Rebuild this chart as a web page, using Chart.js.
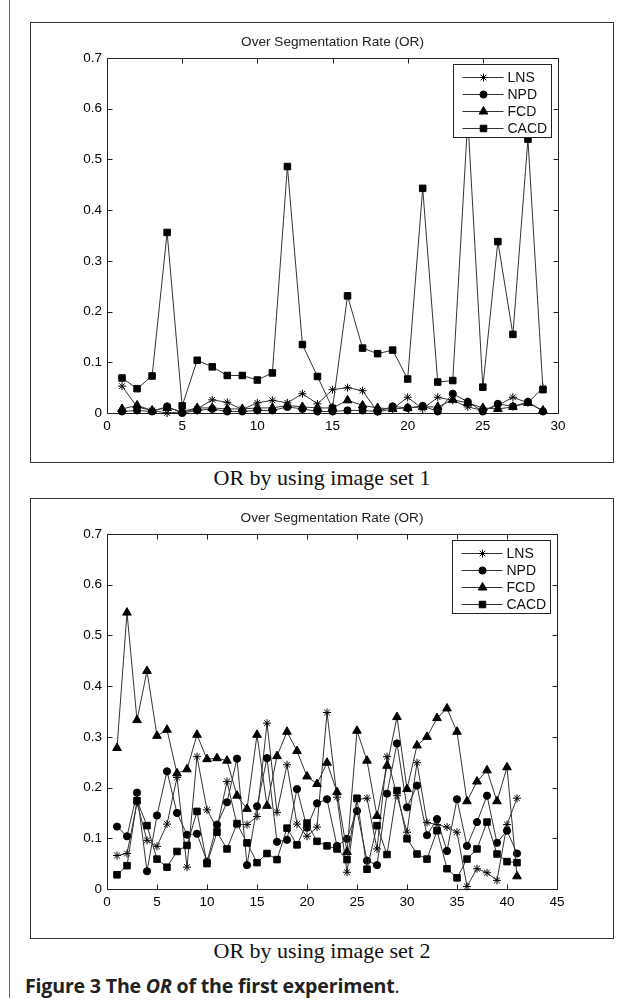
<!DOCTYPE html>
<html>
<head>
<meta charset="utf-8">
<script src="https://cdn.jsdelivr.net/npm/chart.js@4/dist/chart.umd.min.js"></script>
<style>
  body { margin: 0; background: #fff; }
  #page { position: relative; width: 624px; height: 1004px; overflow: hidden; background: #fff; }
  .edge { position: absolute; left: 9px; top: 0; width: 1px; height: 998px; background: #666; }
  .box { position: absolute; left: 30px; width: 584px; height: 441px; border: 1px solid #333; box-sizing: border-box; }
  .box canvas { position: absolute; left: 0; top: 0; }
  .cap { position: absolute; left: 30px; width: 584px; text-align: center; font: 22px "Liberation Serif", "Times New Roman", serif; line-height: 24px; color: #111; }
  .fig { position: absolute; left: 25px; top: 974px; font: bold 19.6px "Open Sans", "Noto Sans", sans-serif; line-height: 24px; color: #222; white-space: nowrap; letter-spacing: -0.2px; }
  .fig i { font-style: italic; }
  .fig span { font-weight: normal; }
</style>
</head>
<body>
<div id="page">
  <div class="edge"></div>
  <div class="box" style="top:22px"><canvas id="chart1" width="582" height="439"></canvas></div>
  <div class="cap" style="top:466px">OR by using image set 1</div>
  <div class="box" style="top:498px"><canvas id="chart2" width="582" height="439"></canvas></div>
  <div class="cap" style="top:939px">OR by using image set 2</div>
  <div class="fig">Figure 3 The <i>OR</i> of the first experiment<span>.</span></div>
</div>
<script>
// image set 1
var set1X = [1,2,3,4,5,6,7,8,9,10,11,12,13,14,15,16,17,18,19,20,21,22,23,24,25,26,27,28,29];
var set1LNS = [0.053,0.012,0.005,0.000,0.002,0.008,0.026,0.021,0.007,0.020,0.025,0.020,0.038,0.018,0.046,0.050,0.044,0.002,0.008,0.031,0.008,0.031,0.025,0.012,0.005,0.015,0.031,0.020,0.050];
var set1NPD = [0.003,0.005,0.003,0.013,0.000,0.005,0.008,0.003,0.003,0.005,0.005,0.012,0.008,0.003,0.003,0.005,0.005,0.003,0.013,0.010,0.014,0.003,0.038,0.022,0.003,0.018,0.013,0.022,0.003];
var set1FCD = [0.008,0.015,0.005,0.010,0.003,0.010,0.010,0.008,0.008,0.010,0.010,0.015,0.012,0.010,0.010,0.025,0.015,0.010,0.008,0.010,0.012,0.012,0.026,0.020,0.010,0.008,0.012,0.020,0.005];
var set1CACD = [0.069,0.048,0.073,0.356,0.014,0.104,0.091,0.074,0.074,0.065,0.079,0.486,0.135,0.072,0.009,0.231,0.128,0.117,0.124,0.067,0.443,0.061,0.064,0.580,0.051,0.338,0.155,0.540,0.046];

// image set 2
var set2X = [1,2,3,4,5,6,7,8,9,10,11,12,13,14,15,16,17,18,19,20,21,22,23,24,25,26,27,28,29,30,31,32,33,34,35,36,37,38,39,40,41];
var set2LNS = [0.066,0.070,0.170,0.096,0.084,0.128,0.220,0.043,0.261,0.156,0.120,0.212,0.127,0.127,0.143,0.327,0.151,0.245,0.128,0.104,0.122,0.348,0.181,0.033,0.176,0.179,0.079,0.261,0.184,0.112,0.249,0.131,0.127,0.122,0.112,0.005,0.040,0.032,0.017,0.127,0.179];
var set2NPD = [0.123,0.104,0.190,0.035,0.145,0.232,0.150,0.107,0.109,0.054,0.127,0.171,0.257,0.047,0.163,0.258,0.093,0.097,0.197,0.121,0.169,0.177,0.085,0.099,0.154,0.056,0.047,0.188,0.287,0.161,0.204,0.106,0.138,0.075,0.177,0.085,0.132,0.184,0.091,0.115,0.070];
var set2FCD = [0.278,0.545,0.333,0.430,0.302,0.314,0.228,0.236,0.304,0.256,0.258,0.253,0.184,0.158,0.304,0.164,0.262,0.310,0.272,0.222,0.207,0.249,0.191,0.073,0.312,0.253,0.144,0.243,0.339,0.197,0.283,0.300,0.337,0.356,0.310,0.173,0.212,0.234,0.173,0.240,0.025];
var set2CACD = [0.028,0.046,0.174,0.125,0.059,0.043,0.074,0.086,0.153,0.050,0.112,0.079,0.129,0.091,0.052,0.070,0.058,0.120,0.087,0.130,0.094,0.085,0.079,0.058,0.179,0.039,0.125,0.068,0.194,0.099,0.069,0.059,0.115,0.040,0.022,0.059,0.079,0.132,0.069,0.054,0.052];

var methodNames = ["LNS", "NPD", "FCD", "CACD"];
var yTicks = [0, 0.1, 0.2, 0.3, 0.4, 0.5, 0.6, 0.7];

var FONT = '"Liberation Sans", Arial, sans-serif';

function toPoints(xs, ys) {
    return xs.map(function (x, i) { return { x: x, y: ys[i] }; });
}

function makeDatasets(xs, series) {
    var styles = [
        { pointStyle: 'star', pointRadius: 4, order: 3 },
        { pointStyle: 'circle', pointRadius: 3.6, order: 2 },
        { pointStyle: 'triangle', pointRadius: 5, order: 1 },
        { pointStyle: 'rect', pointRadius: 4.6, order: 0 }
    ];
    return series.map(function (ys, i) {
        return {
            label: methodNames[i],
            data: toPoints(xs, ys),
            borderColor: '#333',
            borderWidth: 1,
            pointStyle: styles[i].pointStyle,
            pointRadius: styles[i].pointRadius,
            pointBackgroundColor: '#000',
            pointBorderColor: '#000',
            pointBorderWidth: 1,
            order: styles[i].order,
            tension: 0,
            clip: false
        };
    });
}

function drawMarker(ctx, style, r, x, y) {
    if (Chart.helpers && Chart.helpers.drawPoint) {
        Chart.helpers.drawPoint(ctx, { pointStyle: style, radius: r, borderWidth: 1, rotation: 0 }, x, y);
        return;
    }
    ctx.beginPath();
    ctx.arc(x, y, r, 0, Math.PI * 2);
    ctx.fill();
}

// box, inward ticks, title and legend like a matlab figure
var matlabFrame = {
    id: 'matlabFrame',
    beforeDatasetsDraw: function (chart, args, opts) {
        var ctx = chart.ctx, a = chart.chartArea;
        var sx = chart.scales.x, sy = chart.scales.y;
        var L = Math.round(a.left) + 0.5, R = Math.round(a.right) + 0.5;
        var T = Math.round(a.top) + 0.5, B = Math.round(a.bottom) + 0.5;
        ctx.save();
        ctx.strokeStyle = '#222';
        ctx.lineWidth = 1;
        ctx.strokeRect(L, T, R - L, B - T);
        ctx.beginPath();
        sx.ticks.forEach(function (t) {
            var px = Math.round(sx.getPixelForValue(t.value)) + 0.5;
            ctx.moveTo(px, B); ctx.lineTo(px, B - 5);
            ctx.moveTo(px, T); ctx.lineTo(px, T + 5);
        });
        sy.ticks.forEach(function (t) {
            var py = Math.round(sy.getPixelForValue(t.value)) + 0.5;
            ctx.moveTo(L, py); ctx.lineTo(L + 5, py);
            ctx.moveTo(R, py); ctx.lineTo(R - 5, py);
        });
        ctx.stroke();
        ctx.fillStyle = '#222';
        ctx.font = '13.6px ' + FONT;
        ctx.textAlign = 'center';
        ctx.textBaseline = 'middle';
        ctx.fillText(opts.title, (a.left + a.right) / 2, a.top - 16);
        ctx.restore();
    },
    afterDatasetsDraw: function (chart) {
        var ctx = chart.ctx, a = chart.chartArea;
        var w = 98, h = 73;
        var bx = Math.round(a.right - 7 - w) + 0.5, by = Math.round(a.top + 6) + 0.5;
        ctx.save();
        ctx.fillStyle = '#fff';
        ctx.fillRect(bx, by, w, h);
        ctx.strokeStyle = '#222';
        ctx.lineWidth = 1;
        ctx.strokeRect(bx, by, w, h);
        ctx.font = '14px ' + FONT;
        ctx.textBaseline = 'middle';
        ctx.textAlign = 'left';
        chart.data.datasets.forEach(function (ds, i) {
            var y = Math.round(by + 12 + i * 17.3) + 0.5;
            ctx.strokeStyle = ds.borderColor;
            ctx.beginPath();
            ctx.moveTo(bx + 9, y); ctx.lineTo(bx + 50, y);
            ctx.stroke();
            ctx.fillStyle = '#000';
            ctx.strokeStyle = '#000';
            drawMarker(ctx, ds.pointStyle, ds.pointRadius, bx + 30, y);
            ctx.fillStyle = '#111';
            ctx.fillText(ds.label, bx + 54, y + 1);
        });
        ctx.restore();
    }
};

function makeChart(id, xs, series, xMax, rightPad) {
    var ctx = document.getElementById(id).getContext('2d');
    return new Chart(ctx, {
        type: 'line',
        data: { datasets: makeDatasets(xs, series) },
        options: {
            responsive: false,
            animation: false,
            devicePixelRatio: 1,
            layout: { padding: { top: 35, right: rightPad, left: 0, bottom: 0 } },
            plugins: {
                legend: { display: false },
                tooltip: { enabled: false },
                matlabFrame: { title: 'Over Segmentation Rate (OR)' }
            },
            scales: {
                x: {
                    type: 'linear',
                    min: 0,
                    max: xMax,
                    grid: { display: false, drawTicks: false },
                    border: { display: false },
                    ticks: { stepSize: 5, padding: 5, color: '#000', font: { family: FONT, size: 13.5 } },
                    afterFit: function (s) { s.height = 49; }
                },
                y: {
                    min: 0,
                    max: 0.7,
                    grid: { display: false, drawTicks: false },
                    border: { display: false },
                    afterBuildTicks: function (s) { s.ticks = yTicks.map(function (v) { return { value: v }; }); },
                    ticks: {
                        padding: 5,
                        color: '#000',
                        font: { family: FONT, size: 13.5 },
                        callback: function (v) { return String(+v.toFixed(1)); }
                    },
                    afterFit: function (s) { s.width = 76; }
                }
            }
        },
        plugins: [matlabFrame]
    });
}

makeChart('chart1', set1X, [set1LNS, set1NPD, set1FCD, set1CACD], 30, 55);
makeChart('chart2', set2X, [set2LNS, set2NPD, set2FCD, set2CACD], 45, 56);
</script>
</body>
</html>
